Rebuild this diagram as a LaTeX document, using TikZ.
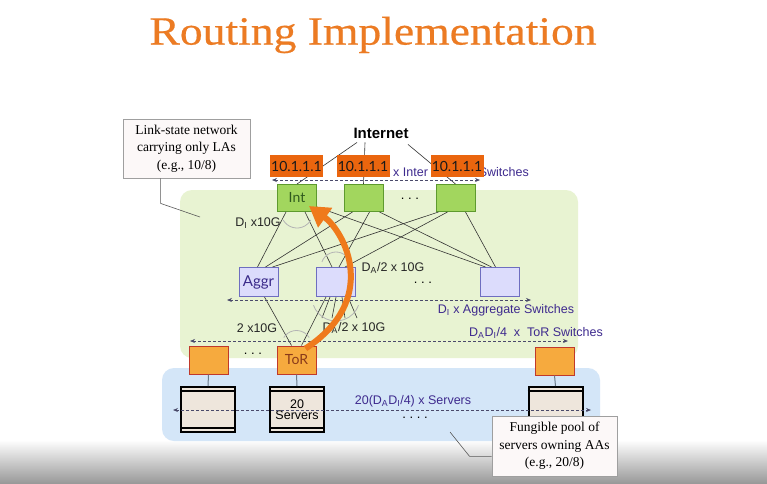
\documentclass[tikz,border=0pt]{standalone}
\usepackage{fontspec}
\setmainfont{Liberation Serif}
\newfontfamily\arialf{Liberation Sans}
\newfontfamily\gillf{Lato}
\newfontfamily\titlef{Liberation Serif}[FakeBold=0.5, FakeStretch=1.14]
\usetikzlibrary{arrows.meta,calc}

\definecolor{titleorange}{HTML}{EC7B23}
\definecolor{tiergreen}{HTML}{E8F3D2}
\definecolor{poolblue}{HTML}{D4E6F8}
\definecolor{intfill}{HTML}{A2D65E}
\definecolor{intdraw}{HTML}{5E9A2E}
\definecolor{inttext}{HTML}{2F5A1E}
\definecolor{aggfill}{HTML}{DCDCFC}
\definecolor{aggdraw}{HTML}{6E6EC0}
\definecolor{aggtext}{HTML}{3A2A8A}
\definecolor{torfill}{HTML}{F6AA3E}
\definecolor{tordraw}{HTML}{C0392B}
\definecolor{tortext}{HTML}{8A3A1A}
\definecolor{addrfill}{HTML}{EA650E}
\definecolor{rackfill}{HTML}{EEE6DC}
\definecolor{labelpurple}{HTML}{3E2A8E}
\definecolor{dasharrow}{HTML}{4A4A6A}
\definecolor{arrowhot}{HTML}{EF7A1C}
\definecolor{calloutfill}{HTML}{FCF8F8}
\definecolor{linkgray}{HTML}{B4B4B4}
\definecolor{uplink}{HTML}{6A7A8A}

\tikzset{
  intsw/.style={draw=intdraw, fill=intfill, line width=1pt, minimum width=39pt,
    minimum height=27pt, inner sep=0pt, text=inttext, font=\gillf\fontsize{14}{14}\selectfont},
  aggsw/.style={draw=aggdraw, fill=aggfill, line width=1pt, minimum width=39pt,
    minimum height=29pt, inner sep=0pt, text=aggtext, font=\gillf\fontsize{15}{15}\selectfont},
  torsw/.style={draw=tordraw, fill=torfill, line width=1pt, minimum width=39pt,
    minimum height=28pt, inner sep=0pt, text=tortext, font=\gillf\fontsize{14}{14}\selectfont},
  addrbox/.style={fill=addrfill, minimum width=53pt, minimum height=22pt, inner sep=0pt,
    text=black!90, font=\gillf\fontsize{14}{14}\selectfont},
  rack/.style={draw=black, line width=2pt, fill=rackfill, minimum width=54pt,
    minimum height=45pt, inner sep=0pt, align=center,
    font=\arialf\fontsize{12.5}{12.5}\selectfont},
  callout/.style={draw=gray!75, line width=.8pt, fill=calloutfill, align=center,
    inner sep=0pt, font=\fontsize{13.5}{17.5}\selectfont},
  pointer/.style={draw=gray!70!black, line width=.6pt},
  mesh/.style={draw=black!80, line width=.6pt},
  bundle/.style={draw=linkgray, line width=.8pt},
  dasharr/.style={draw=dasharrow, line width=.7pt, dash pattern=on 3pt off 2pt,
    {Stealth[length=5pt,width=4pt]}-{Stealth[length=5pt,width=4pt]}},
  rate/.style={font=\arialf\fontsize{12.5}{12.5}\selectfont, text=black!85, inner sep=0pt},
  count/.style={font=\arialf\fontsize{12.5}{12.5}\selectfont, text=labelpurple, inner sep=0pt},
  dotsrow/.style={font=\arialf\fontsize{13}{13}\selectfont, inner sep=0pt},
}

\begin{document}
\begin{tikzpicture}[x=1pt,y=-1pt]
\useasboundingbox (0,0) rectangle (767,483);
\fill[white] (0,0) rectangle (767,483);
\shade[top color=white, bottom color=black!40] (0,440) rectangle (767,483);

% tiers
\fill[tiergreen, rounded corners=12pt] (180,190) rectangle (578,358);
\fill[poolblue, rounded corners=12pt] (162,368) rectangle (600,441);

% title
\node[text=titleorange, font=\titlef\fontsize{40}{40}\selectfont, inner sep=0pt] (title) at (373,35) {Routing Implementation};

% Internet
\node[font=\arialf\bfseries\fontsize{15}{15}\selectfont, inner sep=2pt] (inet) at (381,133) {Internet};

% switches
\node[intsw] (int1) at (297,198) {Int};
\node[intsw] (int2) at (363.5,198) {};
\node[intsw] (int3) at (455.5,198) {};
\node[dotsrow, anchor=base] (intdots) at (410,199) {.\ .\ .};

\node[aggsw] (agg1) at (258.5,282) {Aggr};
\node[aggsw] (agg2) at (336,282) {};
\node[aggsw] (agg3) at (499.5,282) {};
\node[dotsrow, anchor=base] (aggdots) at (423,283) {.\ .\ .};

\node[torsw] (tor1) at (208.5,360) {};
\node[torsw] (tor2) at (296.5,360) {ToR};
\node[torsw] (tor3) at (554.5,361) {};
\node[dotsrow, anchor=base] (tordots) at (253,354) {.\ .\ .};

\node[rack] (rack1) at (208,409.5) {};
\node[rack] (rack2) at (297,409.5) {20\\[-1pt]Servers};
\node[rack] (rack3) at (555.5,409.5) {};
\node[dotsrow, anchor=base] (srvdots) at (415,418) {.\ .\ .\ .};

% rack bands
\foreach \r in {rack1,rack2,rack3}{
  \draw[line width=1.8pt] ($(\r.north west)+(0,5)$) -- ($(\r.north east)+(0,5)$);
  \draw[line width=1.8pt] ($(\r.south west)+(0,-5)$) -- ($(\r.south east)+(0,-5)$);
}

% Internet uplinks
\draw[mesh] ($(inet.south)+(-24,2)$) -- (int1.north);
\draw[mesh] ($(inet.south)+(-16,2)$) -- (int2.north);
\draw[mesh] ($(inet.south)+(27,4)$) -- (int3.north);

% Int -- Aggr full mesh
\draw[mesh] ($(int1.south)+(-11,0)$) -- ($(agg1.north)+(-1,0)$);
\draw[mesh] ($(int1.south)+(8,0)$) -- ($(agg2.north)+(-4,0)$);
\draw[mesh] ($(int1.south east)+(0,-5)$) -- ($(agg3.north)+(-14,0)$);
\draw[mesh] ($(int2.south)+(-11,0)$) -- ($(agg1.north)+(7,0)$);
\draw[mesh] ($(int2.south)+(6,0)$) -- ($(agg2.north)+(3,0)$);
\draw[mesh] ($(int2.south)+(16,0)$) -- ($(agg3.north)+(-8,0)$);
\draw[mesh] ($(int3.south)+(-17,0)$) -- ($(agg1.north)+(14,0)$);
\draw[mesh] ($(int3.south)+(-8,0)$) -- ($(agg2.north)+(9,0)$);
\draw[mesh] ($(int3.south)+(10,0)$) -- ($(agg3.north)+(-4,0)$);

% Aggr -- ToR
\draw[mesh] ($(agg1.south)+(6,0)$) -- ($(tor2.north)+(-5,0)$);
\draw[mesh] ($(agg2.south)+(-10,0)$) -- ($(tor2.north)+(5,0)$);
\foreach \a/\b in {-6/-14, 0/-4, 6/9, 12/21}{
  \draw[mesh] ($(agg2.south)+(\a,0)$) -- ($(agg2.south)+(\b,21)$);
}

% ToR -- rack
\foreach \t/\r in {tor1/rack1, tor2/rack2, tor3/rack3}{
  \draw[uplink, line width=1pt] (\t.south) -- (\r.north);
}

% link bundle arcs
\draw[bundle] ($(int1.south)+(150:16)$) arc[start angle=150, end angle=30, radius=16];
\draw[bundle] ($(agg2.north)+(200:15)$) arc[start angle=200, end angle=340, radius=15];
\draw[bundle] ($(agg2.south)+(160:24)$) arc[start angle=160, end angle=20, radius=24];
\draw[bundle] ($(tor2.north)+(212:15)$) arc[start angle=212, end angle=328, radius=15];

% link rates
\node[rate] (rint) at (258,223) {D\textsubscript{I} x10G};
\node[rate] (raggup) at (393,268) {D\textsubscript{A}/2 x 10G};
\node[rate] (raggdn) at (354,328) {D\textsubscript{A}/2 x 10G};
\node[rate] (rtor) at (257,328) {2 x10G};

% tier extents
\coordinate (intL) at (272,180);  \coordinate (intR) at (480,180);
\coordinate (aggL) at (227,300);  \coordinate (aggR) at (531,300);
\coordinate (torL) at (190,341);  \coordinate (torR) at (568,341);
\coordinate (srvL) at (173,410);  \coordinate (srvR) at (591,410);
\draw[dasharr] (intL) -- (intR);
\draw[dasharr] (aggL) -- (aggR);
\draw[dasharr] (torL) -- (torR);
\draw[dasharr] (srvL) -- (srvR);

\node[count, anchor=west] (cintA) at (393,172) {x Inter};
\node[count, anchor=east] (cintB) at (529,172) {Switches};
\node[count] (cagg) at (506,310) {D\textsubscript{I} x Aggregate Switches};
\node[count] (ctor) at (536,333) {D\textsubscript{A}D\textsubscript{I}/4\ \ x\ \ ToR Switches};
\node[count] (csrv) at (413,401) {20(D\textsubscript{A}D\textsubscript{I}/4) x Servers};

% locator addresses
\node[addrbox] (la1) at (296.5,166) {10.1.1.1};
\node[addrbox] (la2) at (363,166) {10.1.1.1};
\node[addrbox] (la3) at (457,166) {10.1.1.1};

% path from ToR up to Int
\draw[arrowhot, line width=6pt, -{Triangle[length=20pt,width=23pt]}]
  ($(tor2.north east)+(-11,3)$) .. controls (380,300) and (345,232) .. ($(int1.south east)+(-8,-6)$);

% callouts
\node[callout, minimum width=127pt, minimum height=59pt] (la) at (186.5,148.5)
  {Link-state network\\carrying only LAs\\(e.g., 10/8)};
\coordinate (laend) at (200,217);
\draw[pointer] ($(la.south west)+(38,0)$) -- ++(0,25) -- (laend);

\node[callout, minimum width=125pt, minimum height=60pt] (aa) at (554.5,446)
  {Fungible pool of\\servers owning AAs\\(e.g., 20/8)};
\coordinate (aaend) at (450,432);
\draw[pointer] ($(aa.south west)+(0,-20)$) -- ++(-22,0) -- (aaend);
\end{tikzpicture}
\end{document}
